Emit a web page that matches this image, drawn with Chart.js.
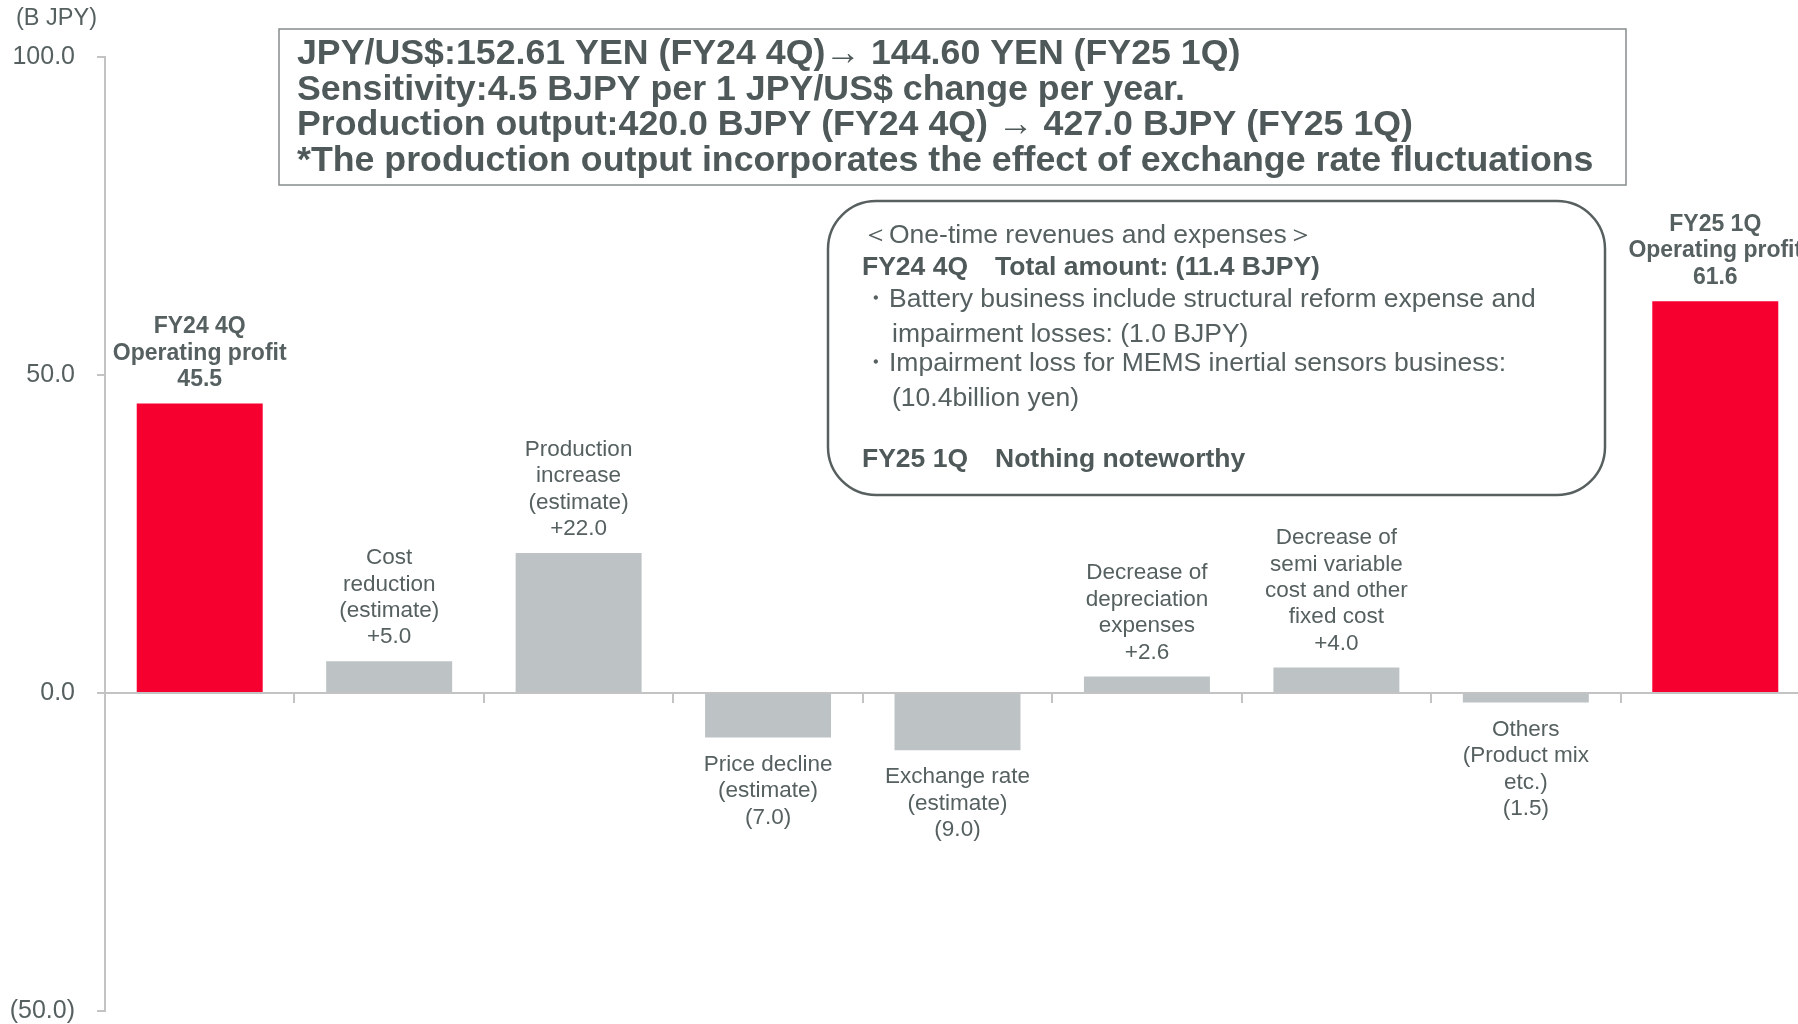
<!DOCTYPE html>
<html>
<head>
<meta charset="utf-8">
<script src="https://cdn.jsdelivr.net/npm/chart.js@4.4.1/dist/chart.umd.min.js"></script>
<style>
  html, body { margin: 0; padding: 0; background: #fff; overflow: hidden; }
  #wrap { width: 1798px; height: 1024px; overflow: hidden; position: relative; }
</style>
</head>
<body>
<div id="wrap"><canvas id="bridge" width="1810" height="1048"></canvas></div>
<script>
"use strict";
// operating profit bridge FY24 4Q -> FY25 1Q (B JPY)
const categories = [
    ['FY24 4Q', 'Operating profit'],
    ['Cost', 'reduction', '(estimate)'],
    ['Production', 'increase', '(estimate)'],
    ['Price decline', '(estimate)'],
    ['Exchange rate', '(estimate)'],
    ['Decrease of', 'depreciation', 'expenses'],
    ['Decrease of', 'semi variable', 'cost and other', 'fixed cost'],
    ['Others', '(Product mix', 'etc.)'],
    ['FY25 1Q', 'Operating profit'],
];
const values = [45.5, 5.0, 22.0, -7.0, -9.0, 2.6, 4.0, -1.5, 61.6];
const isTotal = [true, false, false, false, false, false, false, false, true];
const yTicks = [100, 50, 0, -50];

const noteLines = [
    'JPY/US$:152.61 YEN (FY24 4Q)\u2192 144.60 YEN (FY25 1Q)',
    'Sensitivity:4.5 BJPY per 1 JPY/US$ change per year.',
    'Production output:420.0 BJPY (FY24 4Q) \u2192 427.0 BJPY (FY25 1Q)',
    '*The production output incorporates the effect of exchange rate fluctuations',
];

const FONT = '"Liberation Sans", Arial, Helvetica, sans-serif';
const TEXT = '#566060';
const RED = '#F5002F';
const GRAY = '#BDC3C5';
const AXIS = '#C3C3C3';

function fmtTick(v) {
    return v < 0 ? '(' + Math.abs(v).toFixed(1) + ')' : v.toFixed(1);
}
function fmtValue(v, total) {
    if (total) return v.toFixed(1);
    return v < 0 ? '(' + Math.abs(v).toFixed(1) + ')' : '+' + v.toFixed(1);
}

const barLabels = {
    id: 'barLabels',
    afterDatasetsDraw(chart) {
        const ctx = chart.ctx;
        const meta = chart.getDatasetMeta(0);
        ctx.save();
        ctx.fillStyle = TEXT;
        ctx.textAlign = 'center';
        ctx.textBaseline = 'middle';
        meta.data.forEach((el, i) => {
            const lines = categories[i].concat([fmtValue(values[i], isTotal[i])]);
            ctx.font = isTotal[i] ? 'bold 23px ' + FONT : '22.5px ' + FONT;
            const lh = 26.4;
            if (values[i] >= 0) {
                const last = el.y - 24;
                lines.forEach((t, k) => {
                    ctx.fillText(t, el.x, last - (lines.length - 1 - k) * lh);
                });
            } else {
                const first = el.y + 27;
                lines.forEach((t, k) => ctx.fillText(t, el.x, first + k * lh));
            }
        });
        ctx.restore();
    }
};

function fitSize(ctx, weight, text, base, target) {
    ctx.font = weight + base + 'px ' + FONT;
    return base * target / ctx.measureText(text).width;
}

function roundRect(ctx, x, y, w, h, r) {
    ctx.beginPath();
    ctx.moveTo(x + r, y);
    ctx.lineTo(x + w - r, y);
    ctx.arcTo(x + w, y, x + w, y + r, r);
    ctx.lineTo(x + w, y + h - r);
    ctx.arcTo(x + w, y + h, x + w - r, y + h, r);
    ctx.lineTo(x + r, y + h);
    ctx.arcTo(x, y + h, x, y + h - r, r);
    ctx.lineTo(x, y + r);
    ctx.arcTo(x, y, x + r, y, r);
    ctx.closePath();
}

const notes = {
    id: 'notes',
    afterDraw(chart) {
        const ctx = chart.ctx;
        ctx.save();
        // unit
        ctx.fillStyle = TEXT;
        ctx.font = '23.5px ' + FONT;
        ctx.textAlign = 'left';
        ctx.textBaseline = 'middle';
        ctx.fillText('(B JPY)', 16, 19);

        // top box
        ctx.strokeStyle = '#868C8C';
        ctx.lineWidth = 1.5;
        ctx.strokeRect(279, 29, 1347, 156);
        const s1 = fitSize(ctx, 'bold ', noteLines[3], 32, 1297);
        ctx.font = 'bold ' + s1 + 'px ' + FONT;
        ctx.fillStyle = '#4F5959';
        noteLines.forEach((t, k) => ctx.fillText(t, 297, 54.5 + k * 35.5));

        // rounded box
        ctx.strokeStyle = '#58605F';
        ctx.lineWidth = 2.5;
        roundRect(ctx, 828, 201, 777, 294, 48);
        ctx.stroke();
        const s2 = fitSize(ctx, '', 'Battery business include structural reform expense and', 24, 647);
        ctx.fillStyle = TEXT;
        ctx.font = s2 + 'px ' + FONT;
        ctx.fillText('\uFF1COne-time revenues and expenses\uFF1E', 862, 236);
        ctx.fillText('\u30FB', 862, 300);
        ctx.fillText('Battery business include structural reform expense and', 889, 300);
        ctx.fillText('impairment losses: (1.0 BJPY)', 892, 335);
        ctx.fillText('\u30FB', 862, 364);
        ctx.fillText('Impairment loss for MEMS inertial sensors business:', 889, 364);
        ctx.fillText('(10.4billion yen)', 892, 399);
        ctx.font = 'bold ' + s2 + 'px ' + FONT;
        ctx.fillStyle = '#4F5959';
        ctx.fillText('FY24 4Q', 862, 268);
        ctx.fillText('Total amount: (11.4 BJPY)', 995, 268);
        ctx.fillText('FY25 1Q', 862, 460);
        ctx.fillText('Nothing noteworthy', 995, 460);
        ctx.restore();
    }
};

const chart = new Chart(document.getElementById('bridge'), {
    type: 'bar',
    data: {
        labels: categories,
        datasets: [{
            data: values,
            backgroundColor: values.map((v, i) => isTotal[i] ? RED : GRAY),
            borderWidth: 0,
            barPercentage: 0.665,
            categoryPercentage: 1.0,
        }],
    },
    options: {
        responsive: false,
        animation: false,
        devicePixelRatio: 1,
        layout: { padding: { top: 57, bottom: 14, left: 0, right: 0 } },
        plugins: { legend: { display: false }, tooltip: { enabled: false } },
        scales: {
            x: {
                position: { y: 0 },
                afterFit: (s) => { s.height = 0; },
                ticks: { display: false },
                grid: {
                    offset: true,
                    drawOnChartArea: false,
                    drawTicks: true,
                    tickLength: 9,
                    color: AXIS,
                    lineWidth: 2,
                },
                border: { display: true, color: AXIS, width: 2 },
            },
            y: {
                min: -50,
                max: 100,
                afterBuildTicks: (s) => { s.ticks = yTicks.map(v => ({ value: v })); },
                afterFit: (s) => { s.width = 105; },
                ticks: {
                    padding: 22,
                    color: '#566060',
                    font: { family: FONT, size: 25 },
                    callback: (v) => fmtTick(v),
                },
                grid: {
                    drawOnChartArea: false,
                    drawTicks: true,
                    tickLength: 8,
                    color: AXIS,
                    lineWidth: 2,
                },
                border: { display: true, color: AXIS, width: 2 },
            },
        },
    },
    plugins: [barLabels, notes],
});
</script>
</body>
</html>
